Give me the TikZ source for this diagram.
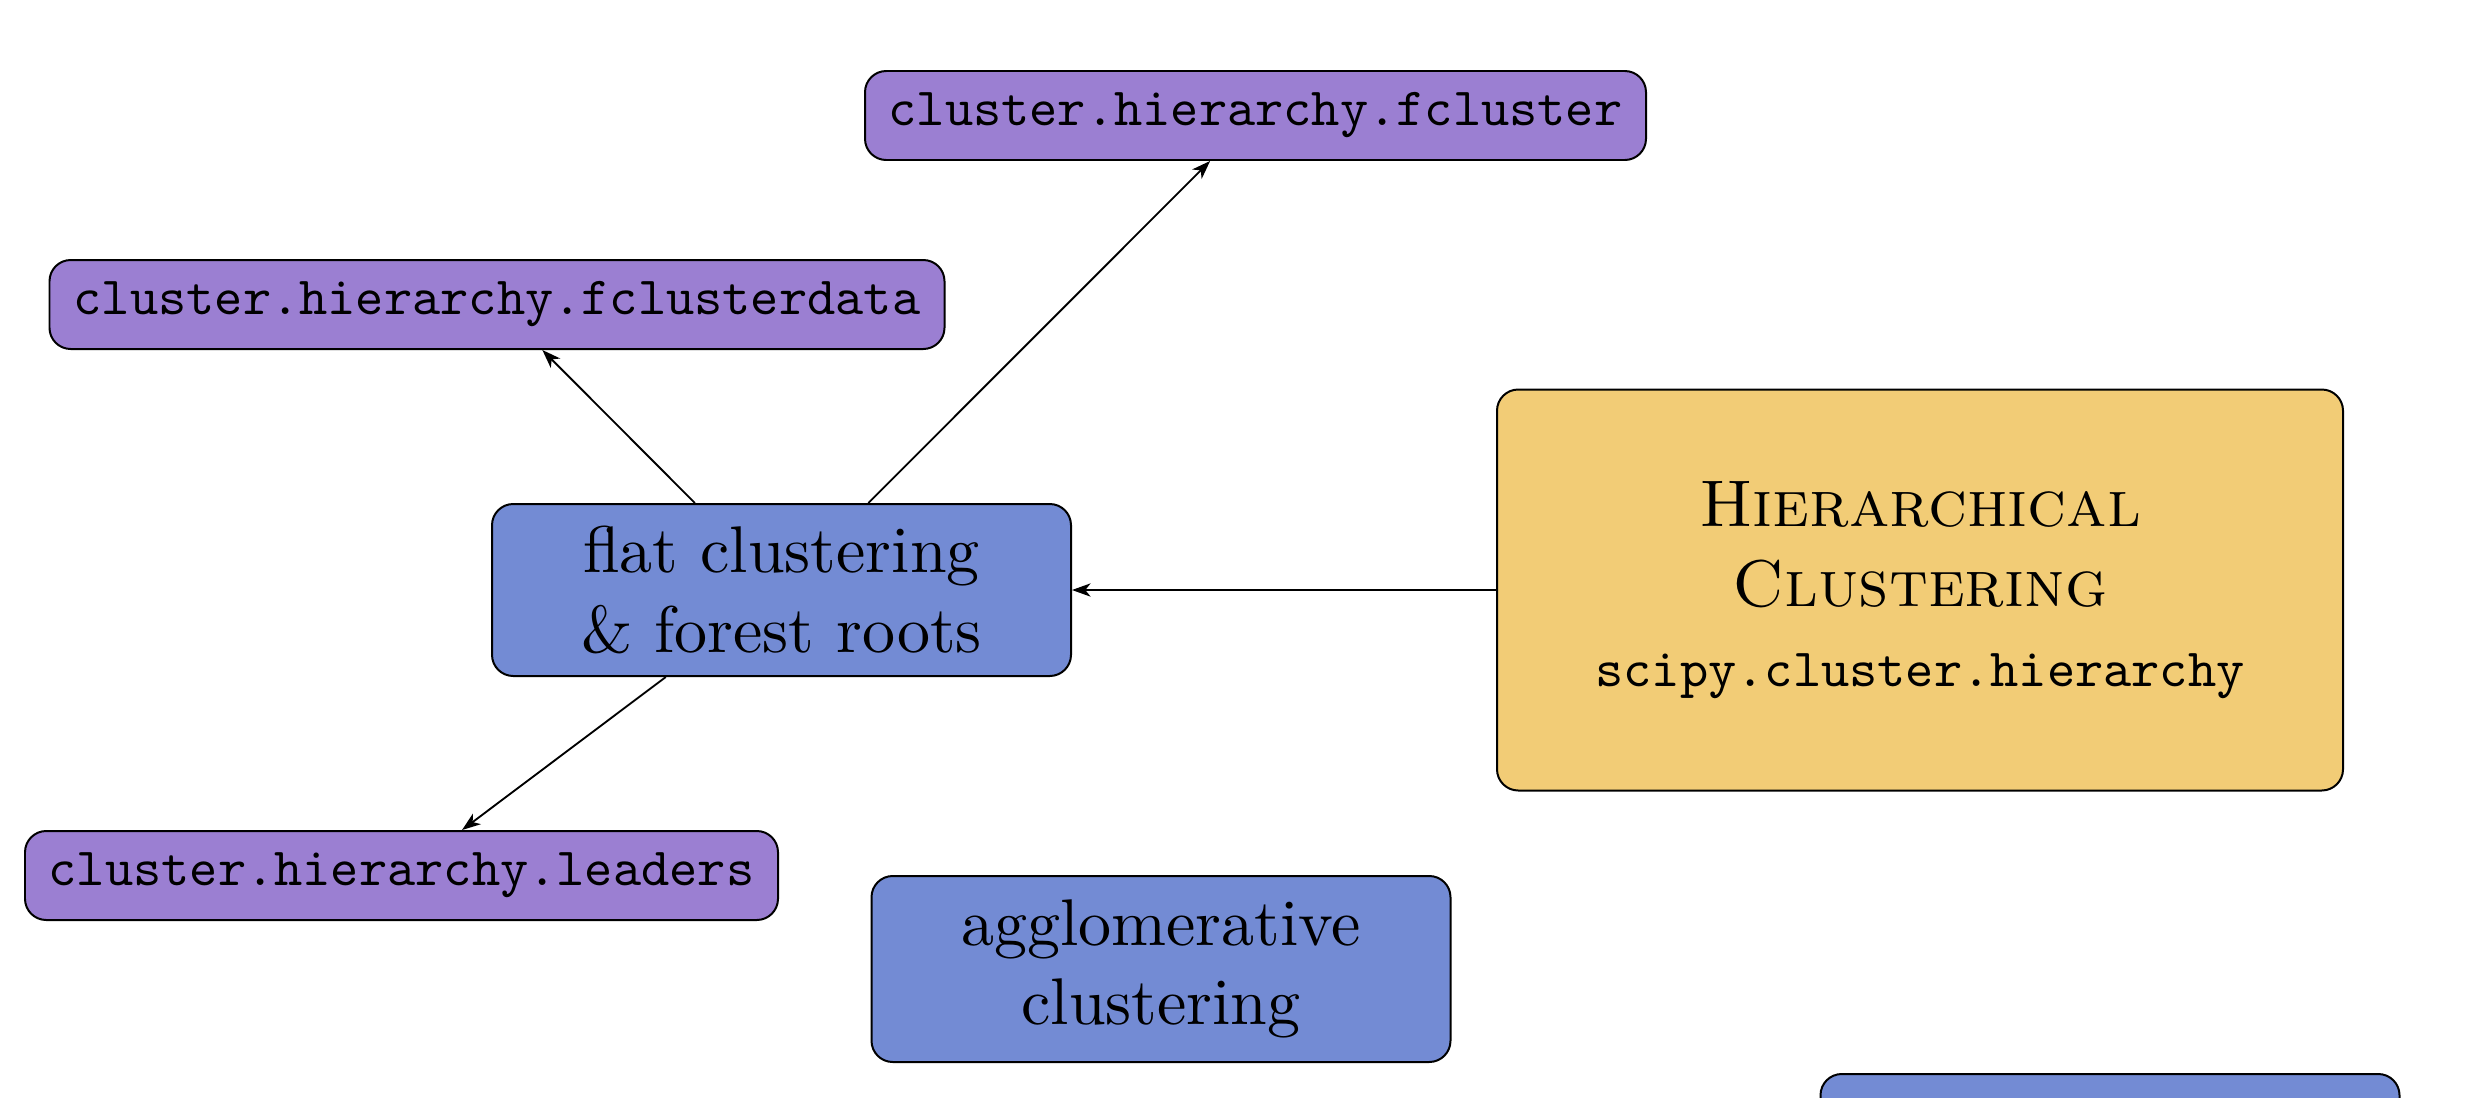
\documentclass[tikz,border=0pt]{standalone}
\usepackage{fontspec}
\setmainfont{lmroman10-regular.otf}[SmallCapsFont=lmromancaps10-regular.otf, BoldFont=lmroman10-bold.otf, ItalicFont=lmroman10-italic.otf]
\setmonofont{lmmono10-regular.otf}
\usetikzlibrary{arrows.meta}
\definecolor{boxpurple}{RGB}{155,127,210}
\definecolor{boxblue}{RGB}{115,139,212}
\definecolor{boxyellow}{RGB}{242,204,118}
\def\pxu{0.37693pt}
\newcommand{\monosize}{\fontsize{20.26pt}{25pt}\selectfont}
\begin{document}
\begin{tikzpicture}[x=0.37693pt, y=-0.37693pt,
  base/.style={draw=black, line width=0.75pt, rounded corners=8pt, inner sep=0pt, align=center},
  fnbox/.style={base, fill=boxpurple, font=\monosize\ttfamily, minimum height=89*\pxu},
  topicbox/.style={base, fill=boxblue, font=\Huge, minimum width=579*\pxu},
  rootbox/.style={base, fill=boxyellow, font=\Huge, minimum width=846*\pxu, minimum height=401*\pxu},
  link/.style={draw=black, line width=0.7pt, -{Stealth[length=7pt,width=5pt,inset=2pt]}}
]
\useasboundingbox (0,0) rectangle (2479,1097);
\node[fnbox, minimum width=781*\pxu] (P1) at (1255.5,115.5) {cluster.hierarchy.fcluster};
\node[fnbox, minimum width=895*\pxu] (P2) at (497,304.5) {cluster.hierarchy.fclusterdata};
\node[fnbox, minimum width=753*\pxu] (P3) at (401.5,875.5) {cluster.hierarchy.leaders};
\node[topicbox, minimum height=172*\pxu] (B1) at (781.5,590) {flat clustering\\ \& forest roots};
\node[topicbox, minimum height=186*\pxu] (B2) at (1161,969) {agglomerative\\ clustering};
\node[topicbox, minimum height=186*\pxu] (B3) at (2110,1167) {};
\node[rootbox] (Y) at (1920,590) {\textsc{Hierarchical}\\ \textsc{Clustering}\\ {\monosize\ttfamily scipy.cluster.hierarchy}};
\draw[link] (Y) -- (B1);
\draw[link] (B1) -- (P1);
\draw[link] (B1) -- (P2);
\draw[link] (B1) -- (P3);
\end{tikzpicture}
\end{document}
